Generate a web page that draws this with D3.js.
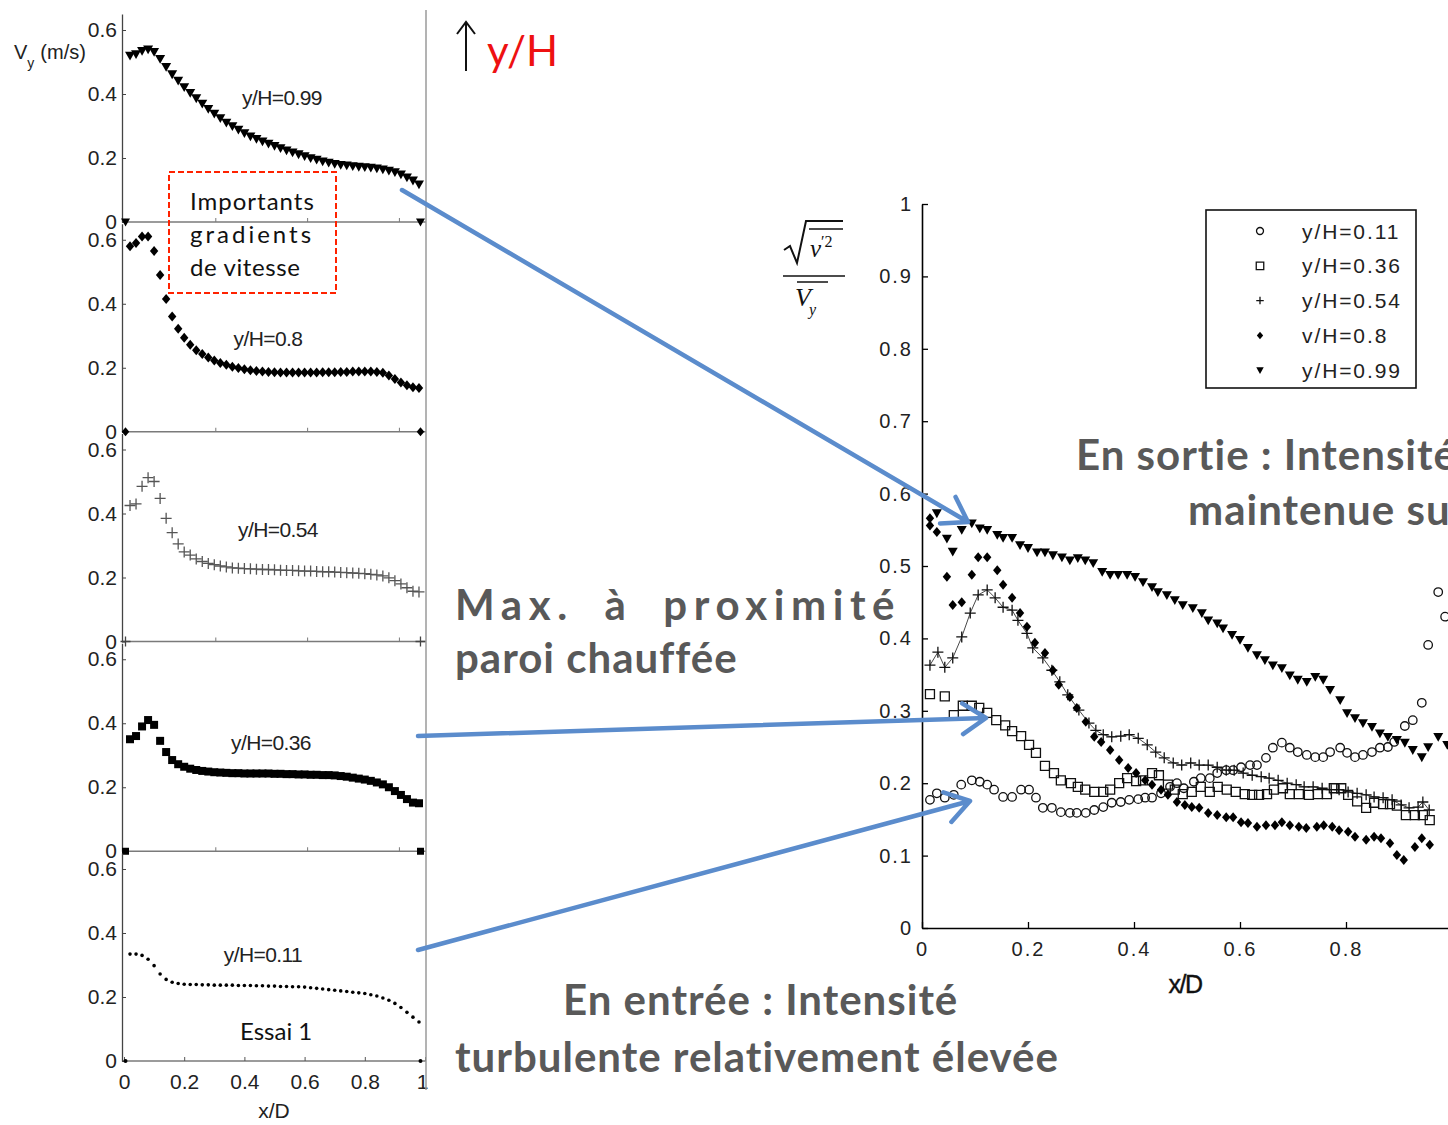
<!DOCTYPE html>
<html>
<head>
<meta charset="utf-8">
<script src="https://cdn.jsdelivr.net/npm/d3@7"></script>
<style>
  body { margin: 0; background: #fff; }
  svg { display: block; }
</style>
</head>
<body>
<svg id="fig" width="1448" height="1125"></svg>
<script>
'use strict';

// ---- left panels: V_y (m/s) along x/D, one panel per height ----
var xGrid = [0.02, 0.04, 0.06, 0.08, 0.10, 0.12, 0.14, 0.16, 0.18, 0.20,
  0.22, 0.24, 0.26, 0.28, 0.30, 0.32, 0.34, 0.36, 0.38, 0.40,
  0.42, 0.44, 0.46, 0.48, 0.50, 0.52, 0.54, 0.56, 0.58, 0.60,
  0.62, 0.64, 0.66, 0.68, 0.70, 0.72, 0.74, 0.76, 0.78, 0.80,
  0.82, 0.84, 0.86, 0.88, 0.90, 0.92, 0.94, 0.96, 0.98];

var vy099 = [0.52, 0.525, 0.535, 0.54, 0.532, 0.51, 0.485, 0.462, 0.442, 0.422,
  0.404, 0.387, 0.37, 0.354, 0.339, 0.325, 0.311, 0.30, 0.289, 0.278,
  0.268, 0.26, 0.252, 0.245, 0.238, 0.231, 0.224, 0.218, 0.212, 0.206,
  0.20, 0.195, 0.19, 0.186, 0.182, 0.179, 0.177, 0.175, 0.173, 0.172,
  0.17, 0.168, 0.165, 0.161, 0.156, 0.149, 0.14, 0.13, 0.118];

var vy080 = [0.58, 0.59, 0.61, 0.61, 0.565, 0.49, 0.415, 0.36, 0.322, 0.294,
  0.272, 0.255, 0.243, 0.232, 0.223, 0.215, 0.209, 0.203, 0.199, 0.195,
  0.192, 0.19, 0.188, 0.187, 0.186, 0.185, 0.185, 0.185, 0.185, 0.185,
  0.185, 0.185, 0.186, 0.186, 0.186, 0.187, 0.187, 0.188, 0.188, 0.188,
  0.188, 0.187, 0.184, 0.176, 0.165, 0.154, 0.145, 0.139, 0.137];

var vy054 = [0.425, 0.43, 0.485, 0.512, 0.50, 0.447, 0.385, 0.34, 0.305, 0.28,
  0.27, 0.258, 0.25, 0.244, 0.24, 0.236, 0.233, 0.23, 0.229, 0.228,
  0.227, 0.226, 0.225, 0.225, 0.224, 0.223, 0.222, 0.222, 0.221, 0.22,
  0.22, 0.219, 0.218, 0.218, 0.217, 0.216, 0.215, 0.214, 0.213, 0.212,
  0.21, 0.208, 0.205, 0.199, 0.19, 0.18, 0.168, 0.157, 0.155];

var vy036 = [0.35, 0.36, 0.39, 0.41, 0.395, 0.345, 0.31, 0.285, 0.272, 0.264,
  0.258, 0.254, 0.251, 0.249, 0.247, 0.246, 0.245, 0.244, 0.244, 0.243,
  0.243, 0.243, 0.243, 0.243, 0.242, 0.242, 0.241, 0.241, 0.24, 0.24,
  0.239, 0.239, 0.238, 0.238, 0.237, 0.235, 0.233, 0.23, 0.227, 0.224,
  0.22, 0.215, 0.209, 0.20, 0.188, 0.176, 0.163, 0.152, 0.15];

var vy011 = [0.334, 0.334, 0.33, 0.318, 0.298, 0.272, 0.255, 0.246, 0.242, 0.24,
  0.239, 0.239, 0.238, 0.238, 0.237, 0.237, 0.237, 0.237, 0.236, 0.236,
  0.236, 0.235, 0.235, 0.234, 0.234, 0.233, 0.233, 0.232, 0.232, 0.231,
  0.229, 0.227, 0.225, 0.223, 0.221, 0.219, 0.217, 0.215, 0.213, 0.211,
  0.207, 0.203, 0.197, 0.19, 0.18, 0.167, 0.152, 0.137, 0.122];

// wall points drawn on each panel's zero line
var wallX = [0.005, 0.985];

var panelNames = ['y/H=0.99', 'y/H=0.8', 'y/H=0.54', 'y/H=0.36', 'y/H=0.11'];
var panelSeries = [vy099, vy080, vy054, vy036, vy011];
var panelMarkers = ['tri', 'diamond', 'plus', 'fsquare', 'dot'];
var leftYTicks = [0, 0.2, 0.4, 0.6];
var leftXTicks = [0, 0.2, 0.4, 0.6, 0.8, 1];
var midTicks = [0.305, 0.61, 0.915];

// ---- right chart: turbulence intensity sqrt(v'^2)/Vy vs x/D ----
var int011 = [[0.015, 0.177], [0.028, 0.186], [0.043, 0.18], [0.06, 0.184], [0.074, 0.198],
  [0.094, 0.204], [0.109, 0.202], [0.123, 0.198], [0.136, 0.191], [0.153, 0.181],
  [0.17, 0.181], [0.187, 0.191], [0.202, 0.191], [0.215, 0.18], [0.228, 0.166],
  [0.245, 0.166], [0.262, 0.16], [0.279, 0.159], [0.292, 0.159], [0.309, 0.159],
  [0.325, 0.163], [0.342, 0.167], [0.358, 0.173], [0.375, 0.174], [0.391, 0.177],
  [0.408, 0.178], [0.421, 0.18], [0.434, 0.18], [0.451, 0.186], [0.468, 0.195],
  [0.481, 0.2], [0.494, 0.193], [0.513, 0.202], [0.526, 0.207], [0.543, 0.207],
  [0.557, 0.214], [0.574, 0.218], [0.587, 0.218], [0.602, 0.222], [0.619, 0.225],
  [0.632, 0.225], [0.649, 0.235], [0.662, 0.249], [0.679, 0.256], [0.694, 0.249],
  [0.709, 0.243], [0.726, 0.239], [0.742, 0.236], [0.757, 0.236], [0.77, 0.243],
  [0.789, 0.249], [0.802, 0.242], [0.817, 0.236], [0.832, 0.239], [0.849, 0.243],
  [0.864, 0.249], [0.879, 0.25], [0.891, 0.257], [0.911, 0.279], [0.926, 0.287],
  [0.943, 0.311], [0.955, 0.391], [0.974, 0.464], [0.987, 0.43]];

var int036 = [[0.015, 0.323], [0.043, 0.32], [0.06, 0.294], [0.077, 0.307], [0.094, 0.307],
  [0.108, 0.304], [0.123, 0.297], [0.14, 0.287], [0.157, 0.28], [0.17, 0.272],
  [0.187, 0.265], [0.202, 0.253], [0.215, 0.242], [0.232, 0.224], [0.249, 0.214],
  [0.262, 0.204], [0.281, 0.2], [0.294, 0.195], [0.308, 0.191], [0.325, 0.188],
  [0.342, 0.188], [0.355, 0.191], [0.372, 0.2], [0.387, 0.207], [0.404, 0.203],
  [0.417, 0.204], [0.434, 0.214], [0.447, 0.211], [0.464, 0.198], [0.477, 0.191],
  [0.492, 0.185], [0.509, 0.188], [0.526, 0.195], [0.543, 0.188], [0.558, 0.195],
  [0.575, 0.191], [0.592, 0.188], [0.609, 0.185], [0.623, 0.184], [0.636, 0.184],
  [0.651, 0.185], [0.664, 0.191], [0.681, 0.193], [0.694, 0.185], [0.711, 0.185],
  [0.73, 0.184], [0.747, 0.185], [0.764, 0.185], [0.777, 0.193], [0.791, 0.193],
  [0.804, 0.184], [0.821, 0.175], [0.838, 0.166], [0.853, 0.173], [0.87, 0.171],
  [0.883, 0.171], [0.896, 0.169], [0.913, 0.156], [0.93, 0.156], [0.945, 0.156],
  [0.958, 0.149]];

var int054 = [[0.015, 0.363], [0.03, 0.381], [0.043, 0.36], [0.058, 0.373], [0.075, 0.402],
  [0.091, 0.435], [0.106, 0.46], [0.123, 0.467], [0.138, 0.456], [0.153, 0.443],
  [0.17, 0.439], [0.181, 0.425], [0.198, 0.407], [0.209, 0.387], [0.228, 0.373],
  [0.245, 0.356], [0.26, 0.34], [0.275, 0.322], [0.296, 0.301], [0.315, 0.283],
  [0.328, 0.273], [0.342, 0.267], [0.358, 0.264], [0.375, 0.265], [0.391, 0.267],
  [0.408, 0.262], [0.425, 0.253], [0.441, 0.243], [0.457, 0.235], [0.474, 0.228],
  [0.49, 0.225], [0.507, 0.228], [0.523, 0.225], [0.54, 0.225], [0.557, 0.222],
  [0.574, 0.218], [0.589, 0.218], [0.606, 0.214], [0.623, 0.211], [0.64, 0.209],
  [0.655, 0.207], [0.672, 0.204], [0.689, 0.2], [0.706, 0.198], [0.721, 0.195],
  [0.738, 0.195], [0.755, 0.193], [0.772, 0.191], [0.787, 0.191], [0.804, 0.188],
  [0.821, 0.186], [0.838, 0.184], [0.853, 0.181], [0.87, 0.18], [0.887, 0.177],
  [0.904, 0.17], [0.919, 0.166], [0.936, 0.167], [0.945, 0.174], [0.957, 0.163]];

var int080 = [[0.015, 0.566], [0.015, 0.556], [0.028, 0.547], [0.047, 0.485], [0.058, 0.446],
  [0.075, 0.45], [0.094, 0.488], [0.106, 0.512], [0.123, 0.512], [0.142, 0.494],
  [0.153, 0.474], [0.17, 0.456], [0.185, 0.435], [0.198, 0.416], [0.213, 0.394],
  [0.232, 0.38], [0.247, 0.356], [0.258, 0.336], [0.279, 0.319], [0.292, 0.304],
  [0.309, 0.285], [0.325, 0.264], [0.338, 0.257], [0.355, 0.246], [0.372, 0.232],
  [0.389, 0.221], [0.404, 0.214], [0.421, 0.204], [0.434, 0.198], [0.451, 0.191],
  [0.464, 0.184], [0.481, 0.174], [0.496, 0.17], [0.509, 0.167], [0.523, 0.166],
  [0.54, 0.159], [0.557, 0.156], [0.574, 0.153], [0.587, 0.153], [0.602, 0.146],
  [0.615, 0.145], [0.632, 0.14], [0.649, 0.142], [0.666, 0.142], [0.679, 0.146],
  [0.694, 0.142], [0.711, 0.14], [0.725, 0.138], [0.745, 0.14], [0.758, 0.142],
  [0.774, 0.14], [0.787, 0.135], [0.804, 0.133], [0.817, 0.126], [0.838, 0.122],
  [0.853, 0.126], [0.866, 0.124], [0.883, 0.117], [0.896, 0.101], [0.909, 0.094],
  [0.93, 0.112], [0.943, 0.124], [0.958, 0.115]];

var int099 = [[0.028, 0.573], [0.047, 0.538], [0.058, 0.52], [0.075, 0.55], [0.094, 0.559],
  [0.109, 0.552], [0.123, 0.55], [0.142, 0.543], [0.153, 0.539], [0.17, 0.539],
  [0.185, 0.529], [0.2, 0.525], [0.217, 0.519], [0.232, 0.519], [0.247, 0.515],
  [0.264, 0.512], [0.279, 0.508], [0.294, 0.511], [0.308, 0.508], [0.323, 0.504],
  [0.34, 0.492], [0.355, 0.488], [0.37, 0.488], [0.387, 0.488], [0.402, 0.485],
  [0.417, 0.478], [0.434, 0.471], [0.445, 0.464], [0.462, 0.46], [0.477, 0.453],
  [0.492, 0.446], [0.511, 0.442], [0.528, 0.435], [0.54, 0.425], [0.557, 0.421],
  [0.568, 0.414], [0.585, 0.405], [0.6, 0.398], [0.615, 0.387], [0.632, 0.377],
  [0.647, 0.37], [0.662, 0.363], [0.679, 0.359], [0.694, 0.349], [0.709, 0.343],
  [0.726, 0.34], [0.742, 0.347], [0.757, 0.343], [0.77, 0.329], [0.789, 0.315],
  [0.802, 0.297], [0.817, 0.29], [0.832, 0.283], [0.849, 0.278], [0.864, 0.269],
  [0.879, 0.264], [0.896, 0.26], [0.911, 0.256], [0.926, 0.246], [0.943, 0.236],
  [0.955, 0.25], [0.974, 0.264], [0.991, 0.253]];

var legendNames = ['y/H=0.11', 'y/H=0.36', 'y/H=0.54', 'v/H=0.8', 'y/H=0.99'];
var legendMarkers = ['circle', 'square', 'plus', 'diamond', 'tri'];
var rightYTicks = [0, 0.1, 0.2, 0.3, 0.4, 0.5, 0.6, 0.7, 0.8, 0.9, 1];
var rightXTicks = [0, 0.2, 0.4, 0.6, 0.8];

var svg = d3.select('#fig');
var tickFmt = function(d) { return String(+d.toFixed(2)); };

// marker shapes centred on 0,0
function markerPath(type, s) {
	switch (type) {
		case 'tri': return 'M' + (-s / 2) + ',' + (-s * 0.38) + 'L' + (s / 2) + ',' + (-s * 0.38) + 'L0,' + (s * 0.5) + 'Z';
		case 'diamond': return 'M0,' + (-s / 2) + 'L' + (s * 0.42) + ',0L0,' + (s / 2) + 'L' + (-s * 0.42) + ',0Z';
		case 'plus': return 'M' + (-s / 2) + ',0H' + (s / 2) + 'M0,' + (-s / 2) + 'V' + (s / 2);
		case 'square':
		case 'fsquare': return 'M' + (-s / 2) + ',' + (-s / 2) + 'h' + s + 'v' + s + 'h' + (-s) + 'Z';
		default: return d3.symbol(d3.symbolCircle, s * s * 0.785)();
	}
}
function markerStyle(sel, type, stroke) {
	var filled = (type === 'tri' || type === 'diamond' || type === 'fsquare' || type === 'dot');
	sel.attr('fill', filled ? '#000' : 'none')
		.attr('stroke', filled ? 'none' : (stroke || '#000'))
		.attr('stroke-width', filled ? 0 : 1.3);
}

// ---------------- left column ----------------
var lx = d3.scaleLinear().domain([0, 1]).range([124, 425]);
var left = svg.append('g').attr('class', 'left');
var leftSizes = { tri: 10, diamond: 10, plus: 11, fsquare: 8, dot: 3.6 };

panelSeries.forEach(function(vals, i) {
	var bottom = 222 + i * 209.75;
	var ly = d3.scaleLinear().domain([0, 0.65]).range([bottom, bottom - 208]);
	var g = left.append('g');
	var type = panelMarkers[i];

	// zero line of the panel
	g.append('line')
		.attr('x1', 122).attr('x2', 426)
		.attr('y1', bottom).attr('y2', bottom)
		.attr('stroke', '#7a7a7a').attr('stroke-width', 1.5);

	if (i < 4) {
		g.selectAll('.mt').data(midTicks).enter().append('line')
			.attr('x1', function(d) { return lx(d); }).attr('x2', function(d) { return lx(d); })
			.attr('y1', bottom).attr('y2', bottom - 4)
			.attr('stroke', '#7a7a7a').attr('stroke-width', 1);
	} else {
		var xa = g.append('g')
			.attr('transform', 'translate(0,' + bottom + ')')
			.call(d3.axisBottom(lx).tickValues(leftXTicks).tickSize(-4).tickSizeOuter(0).tickPadding(13).tickFormat(tickFmt));
		xa.select('.domain').remove();
		xa.selectAll('line').attr('stroke', '#555');
		xa.selectAll('text').attr('font-family', 'Liberation Sans, Arial, sans-serif').attr('font-size', 21).attr('fill', '#222');
		xa.selectAll('.tick:last-of-type text').attr('dx', -3);
	}

	var ya = g.append('g')
		.attr('transform', 'translate(122,0)')
		.call(d3.axisLeft(ly).tickValues(leftYTicks).tickSize(-4).tickSizeOuter(0).tickPadding(5).tickFormat(tickFmt));
	ya.select('.domain').attr('stroke', '#444').attr('stroke-width', 1.3);
	ya.selectAll('line').attr('stroke', '#444');
	ya.selectAll('text').attr('font-family', 'Liberation Sans, Arial, sans-serif').attr('font-size', 21).attr('fill', '#222');

	// measured points
	var pts = g.selectAll('.pt').data(vals).enter().append('path')
		.attr('transform', function(d, k) { return 'translate(' + lx(xGrid[k]) + ',' + ly(d) + ')'; })
		.attr('d', markerPath(type, leftSizes[type]));
	markerStyle(pts, type, '#555');

	// wall points on the zero line
	var wp = g.selectAll('.wp').data(wallX).enter().append('path')
		.attr('transform', function(d) { return 'translate(' + lx(d) + ',' + ly(0) + ')'; })
		.attr('d', markerPath(type, type === 'dot' ? 4 : leftSizes[type] - 1));
	markerStyle(wp, type === 'plus' ? 'plus' : (type === 'dot' ? 'fsquare' : type), '#444');

	g.append('text')
		.attr('x', [282, 268, 278, 271, 263][i])
		.attr('y', bottom - [124, 93, 112, 109, 106][i])
		.attr('dy', '0.35em')
		.attr('text-anchor', 'middle')
		.attr('font-family', 'Liberation Sans, Arial, sans-serif')
		.attr('font-size', 21).attr('fill', '#222')
		.attr('letter-spacing', -0.6)
		.text(panelNames[i]);
});

// right border of the left column
left.append('line').attr('x1', 426).attr('x2', 426).attr('y1', 10).attr('y2', 1090)
	.attr('stroke', '#9a9a9a').attr('stroke-width', 1.5);

// axis titles, left column
var vyLab = left.append('text').attr('x', 14).attr('y', 59)
	.attr('font-family', 'Liberation Sans, Arial, sans-serif').attr('font-size', 20).attr('fill', '#222');
vyLab.append('tspan').text('V');
vyLab.append('tspan').attr('dy', 9).attr('font-size', 14).text('y');
vyLab.append('tspan').attr('dy', -9).attr('dx', 6).text('(m/s)');
left.append('text').attr('x', 274).attr('y', 1118).attr('text-anchor', 'middle')
	.attr('font-family', 'Liberation Sans, Arial, sans-serif').attr('font-size', 21).attr('fill', '#222')
	.text('x/D');

// red dashed box
left.append('rect').attr('x', 169).attr('y', 172).attr('width', 167).attr('height', 121)
	.attr('fill', 'none').attr('stroke', '#ff2200').attr('stroke-width', 2).attr('stroke-dasharray', '6,3');
var boxText = [['Importants', 210, 1], ['gradients', 243, 3], ['de vitesse', 276, 0.6]];
boxText.forEach(function(b) {
	left.append('text').attr('x', 190).attr('y', b[1])
		.attr('font-family', 'Lato, Open Sans, sans-serif').attr('font-size', 24).attr('fill', '#111')
		.attr('letter-spacing', b[2]).text(b[0]);
});
left.append('text').attr('x', 240).attr('y', 1040)
	.attr('font-family', 'Lato, Open Sans, sans-serif').attr('font-size', 24).attr('fill', '#111')
	.text('Essai 1');

// ---------------- right chart ----------------
var rx = d3.scaleLinear().domain([0, 1]).range([922, 1452]);
var ry = d3.scaleLinear().domain([0, 1]).range([928, 204]);
var right = svg.append('g').attr('class', 'right');

var rya = right.append('g').attr('transform', 'translate(922,0)')
	.call(d3.axisLeft(ry).tickValues(rightYTicks).tickSize(-6).tickSizeOuter(0).tickPadding(9).tickFormat(tickFmt));
var rxa = right.append('g').attr('transform', 'translate(0,928)')
	.call(d3.axisBottom(rx).tickValues(rightXTicks).tickSize(-6).tickSizeOuter(0).tickPadding(14).tickFormat(tickFmt));
[rya, rxa].forEach(function(a) {
	a.select('.domain').attr('stroke', '#000').attr('stroke-width', 1.6);
	a.selectAll('line').attr('stroke', '#000').attr('stroke-width', 1.3);
	a.selectAll('text').attr('font-family', 'Liberation Sans, Arial, sans-serif')
		.attr('font-size', 20).attr('fill', '#222').attr('letter-spacing', 2);
});

var rightSeries = [int011, int036, int054, int080, int099];
var rightSizes = { circle: 8.5, square: 9, plus: 11, diamond: 10, tri: 10 };

// thin connecting line of the y/H=0.54 series
right.append('path').datum(int054)
	.attr('d', d3.line().x(function(d) { return rx(d[0]); }).y(function(d) { return ry(d[1]); }))
	.attr('fill', 'none').attr('stroke', '#333').attr('stroke-width', 0.9);

rightSeries.forEach(function(data, i) {
	var type = legendMarkers[i];
	var pts = right.append('g').selectAll('path').data(data).enter().append('path')
		.attr('transform', function(d) { return 'translate(' + rx(d[0]) + ',' + ry(d[1]) + ')'; })
		.attr('d', markerPath(type, rightSizes[type]));
	markerStyle(pts, type, '#111');
});

// legend
var lg = right.append('g');
lg.append('rect').attr('x', 1206).attr('y', 210).attr('width', 210).attr('height', 178)
	.attr('fill', '#fff').attr('stroke', '#111').attr('stroke-width', 1.6);
legendNames.forEach(function(name, i) {
	var type = legendMarkers[i];
	var cy = 231 + i * 34.8;
	var m = lg.append('path').attr('transform', 'translate(1260,' + cy + ')')
		.attr('d', markerPath(type, type === 'circle' ? 7 : 7.5));
	markerStyle(m, type, '#111');
	lg.append('text').attr('x', 1302).attr('y', cy).attr('dy', '0.36em')
		.attr('font-family', 'Liberation Sans, Arial, sans-serif').attr('font-size', 21)
		.attr('letter-spacing', 1.9).attr('fill', '#222').text(name);
});

// axis titles, right chart
right.append('text').attr('x', 1185).attr('y', 993).attr('text-anchor', 'middle')
	.attr('font-family', 'Liberation Sans, Arial, sans-serif').attr('font-size', 25)
	.attr('letter-spacing', -1.5).attr('fill', '#111').attr('stroke', '#111').attr('stroke-width', 0.4)
	.text('x/D');

var fr = right.append('g').attr('fill', '#111').attr('font-family', 'Liberation Serif, Times New Roman, serif');
fr.append('path').attr('d', 'M784,250L790,246L797,263L806,221L843,221')
	.attr('fill', 'none').attr('stroke', '#111').attr('stroke-width', 2);
fr.append('line').attr('x1', 809).attr('x2', 843).attr('y1', 229).attr('y2', 229).attr('stroke', '#111').attr('stroke-width', 1.5);
var num = fr.append('text').attr('x', 810).attr('y', 257).attr('font-style', 'italic').attr('font-size', 25);
num.append('tspan').text('v');
num.append('tspan').attr('font-size', 16).attr('dy', -10).attr('font-style', 'normal').text('\u20322');
fr.append('line').attr('x1', 783).attr('x2', 845).attr('y1', 276).attr('y2', 276).attr('stroke', '#111').attr('stroke-width', 1.5);
fr.append('line').attr('x1', 797).attr('x2', 828).attr('y1', 282).attr('y2', 282).attr('stroke', '#111').attr('stroke-width', 1.5);
var den = fr.append('text').attr('x', 795).attr('y', 306).attr('font-style', 'italic').attr('font-size', 26);
den.append('tspan').text('V');
den.append('tspan').attr('font-size', 16).attr('dy', 9).attr('dx', -2).text('y');

// ---------------- annotations ----------------
var ann = svg.append('g');
ann.append('path').attr('d', 'M466,71V22M457,34L466,22L475,34')
	.attr('fill', 'none').attr('stroke', '#111').attr('stroke-width', 2);
ann.append('text').attr('x', 487).attr('y', 66)
	.attr('font-family', 'Lato, Open Sans, sans-serif').attr('font-size', 42).attr('fill', '#ee1111')
	.text('y/H');

// text, x, baseline, letter spacing, word spacing
var grayText = [
	['Max. à proximité', 455, 620, 6.6, 14],
	['paroi chauffée', 455, 673, 1, 0],
	['En sortie : Intensité', 1076, 470, 1, 0],
	['maintenue sur', 1188, 525, 1, 0],
	['En entrée : Intensité', 563, 1015, 1, 0],
	['turbulente relativement élevée', 455, 1072, 1, 0]
];
grayText.forEach(function(t) {
	ann.append('text').attr('x', t[1]).attr('y', t[2])
		.attr('font-family', 'Lato, Open Sans, sans-serif').attr('font-weight', 'bold')
		.attr('font-size', 42).attr('fill', '#595959')
		.attr('letter-spacing', t[3]).attr('word-spacing', t[4])
		.text(t[0]);
});

// blue arrows from the left profiles to the right chart
var arrows = [[402, 190, 968, 522], [418, 736, 986, 718], [418, 950, 970, 801]];
arrows.forEach(function(a) {
	var ang = Math.atan2(a[3] - a[1], a[2] - a[0]);
	var L = 28, spread = 0.58;
	var p1 = [a[2] - L * Math.cos(ang - spread), a[3] - L * Math.sin(ang - spread)];
	var p2 = [a[2] - L * Math.cos(ang + spread), a[3] - L * Math.sin(ang + spread)];
	ann.append('path')
		.attr('d', 'M' + a[0] + ',' + a[1] + 'L' + a[2] + ',' + a[3] +
			'M' + p1[0] + ',' + p1[1] + 'L' + a[2] + ',' + a[3] + 'L' + p2[0] + ',' + p2[1])
		.attr('fill', 'none').attr('stroke', '#5b8ccc').attr('stroke-width', 4.5)
		.attr('stroke-linecap', 'round').attr('stroke-linejoin', 'round');
});
</script>
</body>
</html>
